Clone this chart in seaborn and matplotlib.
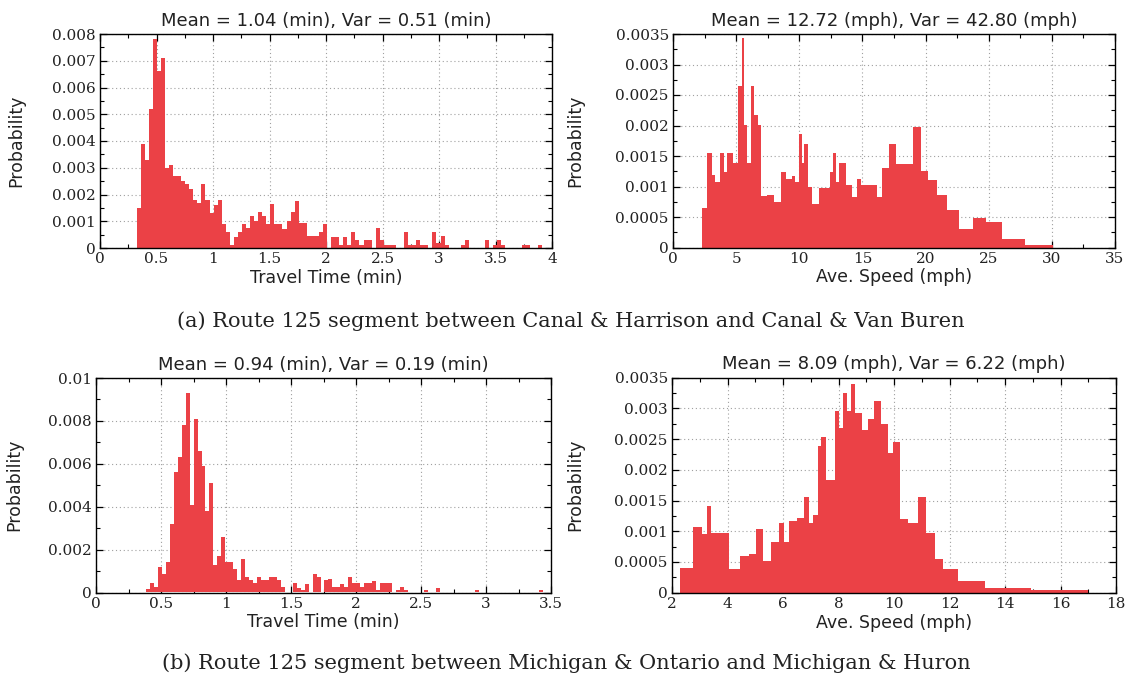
import numpy as np
import pandas as pd
import matplotlib
matplotlib.use("Agg")
import matplotlib.pyplot as plt
import seaborn as sns
from matplotlib.ticker import AutoMinorLocator, FuncFormatter, MultipleLocator

# ---------------- data ----------------
# (a) travel time histogram: 100 equal bins between these limits
tt_a_range = (0.3235, 3.91)
tt_a_prob = [
    0.0015, 0.0039, 0.0033, 0.0052, 0.0078, 0.0066, 0.0071, 0.0030, 0.0031, 0.0027,
    0.0027, 0.0025, 0.0024, 0.0022, 0.0018, 0.0017, 0.0024, 0.0018, 0.0013, 0.0016,
    0.0018, 0.0009, 0.0006, 0.00013, 0.0004, 0.0006, 0.0009, 0.00074, 0.0012, 0.0010,
    0.00135, 0.0012, 0.0009, 0.00164, 0.0009, 0.0009, 0.00072, 0.0010, 0.00135, 0.00176,
    0.00094, 0.00094, 0.00044, 0.00044, 0.00044, 0.0006, 0.00088, 0.0, 0.0004, 0.0004,
    0.0001, 0.0004, 0.0001, 0.0006, 0.0003, 0.0001, 0.0003, 0.0003, 0.0, 0.00075,
    0.0003, 0.0001, 0.0001, 0.0001, 0.0, 0.0, 0.0006, 0.0001, 0.0001, 0.0003,
    0.0001, 0.0001, 0.0, 0.0006, 0.0002, 0.00045, 0.0001, 0.0, 0.0, 0.0,
    0.0001, 0.0003, 0.0, 0.0, 0.0, 0.0, 0.0003, 0.0, 0.0001, 0.0003,
    0.0001, 0.0, 0.0, 0.0, 0.0, 0.0001, 0.0001, 0.0, 0.0, 0.0001,
]

# (a) average speed histogram (bin edges and heights)
sp_a_edges = [2.29, 2.69, 3.08, 3.35, 3.74, 4.0, 4.27, 4.79, 5.11, 5.45,
              5.64, 5.85, 6.16, 6.45, 6.72, 6.98, 7.43, 7.96, 8.54, 8.93,
              9.4, 9.67, 9.98, 10.2, 10.4, 10.72, 11.04, 11.56, 12.43, 12.7,
              12.9, 13.17, 13.7, 14.15, 14.54, 14.88, 16.12, 16.52, 17.12, 17.62,
              18.97, 19.6, 20.2, 20.92, 21.71, 22.66, 23.76, 24.82, 26.05, 27.9,
              30.08]
sp_a_prob = [0.00064, 0.00155, 0.00119, 0.00108, 0.00155, 0.00124, 0.00155, 0.00139, 0.00264, 0.00344,
             0.00201, 0.00139, 0.00264, 0.00218, 0.00201, 0.00085, 0.00086, 0.00075, 0.00124, 0.00113,
             0.00118, 0.00108, 0.00186, 0.00139, 0.0017, 0.00099, 0.00072, 0.00097, 0.00124, 0.00155,
             0.00108, 0.00139, 0.00103, 0.00082, 0.00113, 0.00103, 0.00082, 0.00131, 0.0017, 0.00137,
             0.00198, 0.00126, 0.00111, 0.00086, 0.00061, 0.0003, 0.00049, 0.00042, 0.00014, 0.00004]

# (b) travel time histogram: 100 equal bins between these limits
tt_b_range = (0.3844, 3.436)
tt_b_prob = [
    0.00014, 0.00042, 0.00026, 0.00117, 0.00086, 0.00143, 0.0032, 0.0056, 0.0063, 0.0078,
    0.0093, 0.0041, 0.0081, 0.0066, 0.0059, 0.0038, 0.0051, 0.0013, 0.0017, 0.0026,
    0.0014, 0.0014, 0.0011, 0.00058, 0.00155, 0.0007, 0.00058, 0.00045, 0.00073, 0.00058,
    0.00058, 0.0007, 0.0007, 0.00058, 0.00026, 0.0, 0.0, 0.00042, 0.00019, 0.0001,
    0.0004, 0.0, 0.00086, 0.00073, 0.0, 0.00058, 0.00065, 0.00026, 0.00026, 0.0004,
    0.00026, 0.0007, 0.00042, 0.00042, 0.00026, 0.00042, 0.00042, 0.00054, 0.0001, 0.00042,
    0.00042, 0.00042, 0.0, 0.0001, 0.00026, 0.0001, 0.0, 0.0, 0.0, 0.0,
    0.0001, 0.0, 0.0, 0.00023, 0.0, 0.0, 0.0, 0.0, 0.0, 0.0,
    0.0, 0.0, 0.0, 0.0001, 0.0, 0.0, 0.0, 0.0, 0.0, 0.0,
    0.0, 0.0, 0.0, 0.0, 0.0, 0.0, 0.0, 0.0, 0.0, 0.0001,
]

# (b) average speed histogram (bin edges and heights)
sp_b_edges = [2.28, 2.76, 3.08, 3.26, 3.40, 3.56, 3.80, 4.04, 4.44, 4.76,
              5.03, 5.28, 5.58, 5.84, 6.02, 6.23, 6.50, 6.74, 6.92, 7.08,
              7.25, 7.38, 7.55, 7.88, 8.0, 8.16, 8.30, 8.46, 8.60, 8.84,
              9.08, 9.29, 9.53, 9.78, 9.98, 10.22, 10.52, 10.86, 11.15, 11.46,
              11.76, 12.30, 13.28, 14.93, 16.98]
sp_b_prob = [0.00041, 0.00107, 0.00095, 0.00141, 0.00098, 0.00097, 0.00098, 0.00039, 0.00059, 0.00063,
             0.00103, 0.00052, 0.00082, 0.00113, 0.00083, 0.00116, 0.00122, 0.00156, 0.00113, 0.00126,
             0.00239, 0.00254, 0.00184, 0.00296, 0.00268, 0.00325, 0.00296, 0.0034, 0.00292, 0.00265,
             0.00283, 0.00312, 0.00274, 0.00227, 0.00245, 0.0012, 0.00113, 0.00155, 0.00098, 0.00055,
             0.00039, 0.00019, 0.00008, 0.00004]

titles = ["Mean = 1.04 (min), Var = 0.51 (min)",
          "Mean = 12.72 (mph), Var = 42.80 (mph)",
          "Mean = 0.94 (min), Var = 0.19 (min)",
          "Mean = 8.09 (mph), Var = 6.22 (mph)"]
xlabels = ["Travel Time (min)", "Ave. Speed (mph)", "Travel Time (min)", "Ave. Speed (mph)"]
ylabel = "Probability"
captions = ["(a) Route 125 segment between Canal & Harrison and Canal & Van Buren",
            "(b) Route 125 segment between Michigan & Ontario and Michigan & Huron"]

# ---------------- styling ----------------
sns.set_theme(style="white")
plt.rcParams["font.family"] = ["DejaVu Sans"]

RED = "#eb4146"
fig = plt.figure(figsize=(11.28, 6.83), dpi=100)
fig.patch.set_facecolor("white")

rects = [
    (100 / 1128, 1 - 248 / 683, 452 / 1128, 214 / 683),
    (673 / 1128, 1 - 247.5 / 683, 442 / 1128, 213.5 / 683),
    (96 / 1128, 1 - 592.5 / 683, 455 / 1128, 214.5 / 683),
    (672 / 1128, 1 - 592.7 / 683, 444 / 1128, 215 / 683),
]

specs = [
    dict(edges=np.linspace(*tt_a_range, len(tt_a_prob) + 1), prob=tt_a_prob,
         xlim=(0, 4), xstep=0.5, ylim=(0, 0.008), ystep=0.001, ylab_x=-0.166),
    dict(edges=np.array(sp_a_edges), prob=sp_a_prob,
         xlim=(0, 35), xstep=5, ylim=(0, 0.0035), ystep=0.0005, ylab_x=-0.201),
    dict(edges=np.linspace(*tt_b_range, len(tt_b_prob) + 1), prob=tt_b_prob,
         xlim=(0, 3.5), xstep=0.5, ylim=(0, 0.01), ystep=0.002, ylab_x=-0.160),
    dict(edges=np.array(sp_b_edges), prob=sp_b_prob,
         xlim=(2, 18), xstep=2, ylim=(0, 0.0035), ystep=0.0005, ylab_x=-0.198),
]

fmt = FuncFormatter(lambda v, p: f"{v:g}" if abs(v) > 1e-12 else "0")

for rect, spec, title, xl in zip(rects, specs, titles, xlabels):
    ax = fig.add_axes(rect)
    edges = spec["edges"]
    centers = (edges[:-1] + edges[1:]) / 2
    df = pd.DataFrame({"value": centers, "prob": np.asarray(spec["prob"], dtype=float)})
    sns.histplot(data=df, x="value", weights="prob", bins=edges.tolist(), element="step",
                 fill=True, color=RED, alpha=1.0, linewidth=0, ax=ax)
    ax.set_xlim(*spec["xlim"])
    ax.set_ylim(*spec["ylim"])
    ax.xaxis.set_major_locator(MultipleLocator(spec["xstep"]))
    ax.yaxis.set_major_locator(MultipleLocator(spec["ystep"]))
    ax.xaxis.set_minor_locator(AutoMinorLocator(2))
    ax.yaxis.set_minor_locator(AutoMinorLocator(2))
    ax.xaxis.set_major_formatter(fmt)
    ax.yaxis.set_major_formatter(fmt)
    ax.set_axisbelow(True)
    ax.grid(True, which="major", linestyle=(0, (1, 2.5)), color="#a0a0a0", linewidth=0.8)
    ax.tick_params(which="both", direction="in", top=True, right=True,
                   bottom=True, left=True, colors="black")
    ax.tick_params(which="major", length=5, width=0.9, labelsize=11,
                   labelfontfamily="DejaVu Serif", pad=3, labelcolor="#222222")
    ax.tick_params(which="minor", length=3, width=0.8)
    for s in ax.spines.values():
        s.set_visible(True)
        s.set_color("black")
        s.set_linewidth(1.0)
    ax.set_title(title, fontsize=13, pad=6, color="#222222")
    ax.set_xlabel(xl, fontsize=12.5, labelpad=2, color="#222222")
    ax.set_ylabel(ylabel, fontsize=12.5, color="#222222")
    ax.yaxis.set_label_coords(spec["ylab_x"], 0.5)

fig.text(571 / 1128, 1 - 321 / 683, captions[0], ha="center", va="center",
         fontsize=15, family="DejaVu Serif", color="#222222")
fig.text(566 / 1128, 1 - 663 / 683, captions[1], ha="center", va="center",
         fontsize=15, family="DejaVu Serif", color="#222222")

fig.savefig("out.png", dpi=100, facecolor="white")
